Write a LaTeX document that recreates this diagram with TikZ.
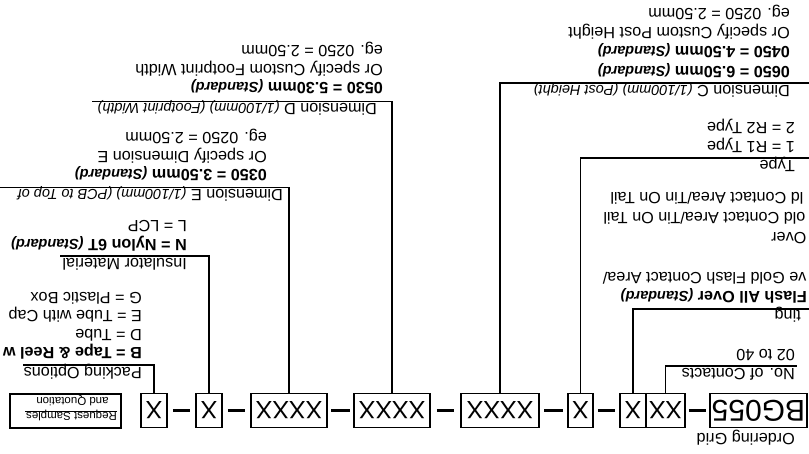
\documentclass[tikz,border=0pt]{standalone}
\usepackage{fontspec}
\setmainfont{Liberation Sans}
\usetikzlibrary{calc}
\newcommand\stdr{{\bfseries\itshape\fontsize{14.5}{17}\selectfont(Standard)}}
\newcommand\dimi[1]{{\itshape\fontsize{14.5}{17}\selectfont #1}}
\begin{document}
\begin{tikzpicture}[x=1pt,y=-1pt,
  lbl/.style={rotate=180, anchor=base west, inner sep=0pt, font=\fontsize{16.2}{19}\selectfont},
  blbl/.style={lbl, font=\fontsize{16.2}{19}\selectfont\bfseries},
  box/.style={draw, line width=1.8pt, inner sep=0pt, minimum height=34pt, font=\fontsize{25}{30}\selectfont},
  lead/.style={line width=1.8pt},
  conn/.style={line width=2.6pt, shorten <=#1, shorten >=#1},
  conn/.default=4pt,
  rs/.style={rotate=180, anchor=base, inner sep=0pt, font=\fontsize{11.5}{14}\selectfont}]
\useasboundingbox (0,0) rectangle (809,454);
\clip (0,0) rectangle (809,454);
% ordering boxes
\node[box, minimum width=97pt, font=\fontsize{30}{36}\selectfont] (b1) at (758.5,410.5) {\rotatebox[origin=c]{180}{BG055}};
\node[box, minimum width=39pt] (b2) at (665.5,410.5) {\rotatebox[origin=c]{180}{XX}};
\node[box, minimum width=26pt] (b3) at (633,410.5) {\rotatebox[origin=c]{180}{X}};
\node[box, minimum width=25pt] (b4) at (580.5,410.5) {\rotatebox[origin=c]{180}{X}};
\node[box, minimum width=78pt] (b5) at (500,410.5) {\rotatebox[origin=c]{180}{XXXX}};
\node[box, minimum width=76pt] (b6) at (392,410.5) {\rotatebox[origin=c]{180}{XXXX}};
\node[box, minimum width=76pt] (b7) at (289,410.5) {\rotatebox[origin=c]{180}{XXXX}};
\node[box, minimum width=26pt] (b8) at (209,410.5) {\rotatebox[origin=c]{180}{X}};
\node[box, minimum width=26pt] (b9) at (154,410.5) {\rotatebox[origin=c]{180}{X}};
% dashes between boxes
\draw[conn=3pt] (b2.east) -- (b1.west);
\draw[conn=4pt] (b4.east) -- (b3.west);
\draw[conn=4.5pt] (b5.east) -- (b4.west);
\draw[conn=6pt] (b6.east) -- (b5.west);
\draw[conn=3.5pt] (b7.east) -- (b6.west);
\draw[conn=5pt] (b8.east) -- (b7.west);
\draw[conn=5pt] (b9.east) -- (b8.west);
% request samples
\node[draw, line width=1.8pt, minimum width=111pt, minimum height=34pt, inner sep=0pt] (rsbox) at (65.5,411) {};
\node[rs] (rs1) at (71.5,413) {Request Samples};
\node[rs] (rs2) at (72.5,398) {and Quotation};
\coordinate (u1) at (117,411);
\coordinate (u2) at (25,411);
\draw[line width=0.9pt] (u1) -- (u2);
% ordering grid title
\node[lbl] (og) at (795,433) {Ordering Grid};
% leader ends
\coordinate (e1) at (797,366);
\coordinate (e2) at (812,309);
\coordinate (e3) at (812,158);
\coordinate (e4) at (812,83);
\coordinate (e5) at (92,101.5);
\coordinate (e6) at (-3,187.5);
\coordinate (e7) at (60,256);
\coordinate (e8) at (23,365);
\draw[lead] (b2.north) |- (e1);
\draw[lead] (b3.north) |- (e2);
\draw[lead] (b4.north) |- (e3);
\draw[lead] (b5.north) |- (e4);
\draw[lead] (b6.north) |- (e5);
\draw[lead] (b7.north) |- (e6);
\draw[lead] (b8.north) |- (e7);
\draw[lead] (b9.north) |- (e8);
% No. of contacts
\node[lbl] (g1t) at (795,369) {No. of Contacts};
\node[lbl] (g1a) at (795,350) {02 to 40};
% plating
\node[lbl] (g2t) at (801,311) {ting};
\node[blbl] (g2a) at (807,292) {Flash All Over \stdr};
\node[lbl] (g2b) at (806.6,273) {ve Gold Flash Contact Area/};
\node[lbl] (g2c) at (806.6,232.5) {Over};
\node[lbl] (g2d) at (805.6,212.5) {old Contact Area/Tin On Tail};
\node[lbl] (g2e) at (803.6,192.5) {ld Contact Area/Tin On Tail};
% type
\node[lbl] (g3t) at (795,160.5) {Type};
\node[lbl] (g3a) at (795,141.5) {1 = R1 Type};
\node[lbl] (g3b) at (795,122.5) {2 = R2 Type};
% dimension C
\node[lbl] (g4t) at (790,85.5) {Dimension C \dimi{(1/100mm) (Post Height)}};
\node[blbl] (g4a) at (790,66.5) {0650 = 6.50mm \stdr};
\node[blbl] (g4b) at (790,47) {0450 = 4.50mm \stdr};
\node[lbl] (g4c) at (790,28) {Or specify Custom Post Height};
\node[lbl] (g4d) at (790,9) {eg. 0250 = 2.50mm};
% dimension D
\node[lbl] (g5t) at (377,104) {Dimension D \dimi{(1/100mm) (Footprint Width)}};
\node[blbl] (g5a) at (383,83) {0530 = 5.30mm \stdr};
\node[lbl] (g5b) at (383,64.5) {Or specify Custom Footprint Width};
\node[lbl] (g5c) at (383,45.5) {eg. 0250 = 2.50mm};
% dimension E
\node[lbl] (g6t) at (283,190) {Dimension E \dimi{(1/100mm) (PCB to Top of}};
\node[blbl] (g6a) at (267,170) {0350 = 3.50mm \stdr};
\node[lbl] (g6b) at (267,151.5) {Or specify Dimension E};
\node[lbl] (g6c) at (267,133) {eg. 0250 = 2.50mm};
% insulator
\node[lbl] (g7t) at (187,259) {Insulator Material};
\node[blbl] (g7a) at (187,239.5) {N = Nylon 6T \stdr};
\node[lbl] (g7b) at (187,221) {L = LCP};
% packing
\node[lbl] (g8t) at (142,368) {Packing Options};
\node[blbl] (g8a) at (142,348) {B = Tape \& Reel w};
\node[lbl] (g8b) at (142,329.5) {D = Tube};
\node[lbl] (g8c) at (142,311) {E = Tube with Cap};
\node[lbl] (g8d) at (142,292.5) {G = Plastic Box};
\end{tikzpicture}
\end{document}
